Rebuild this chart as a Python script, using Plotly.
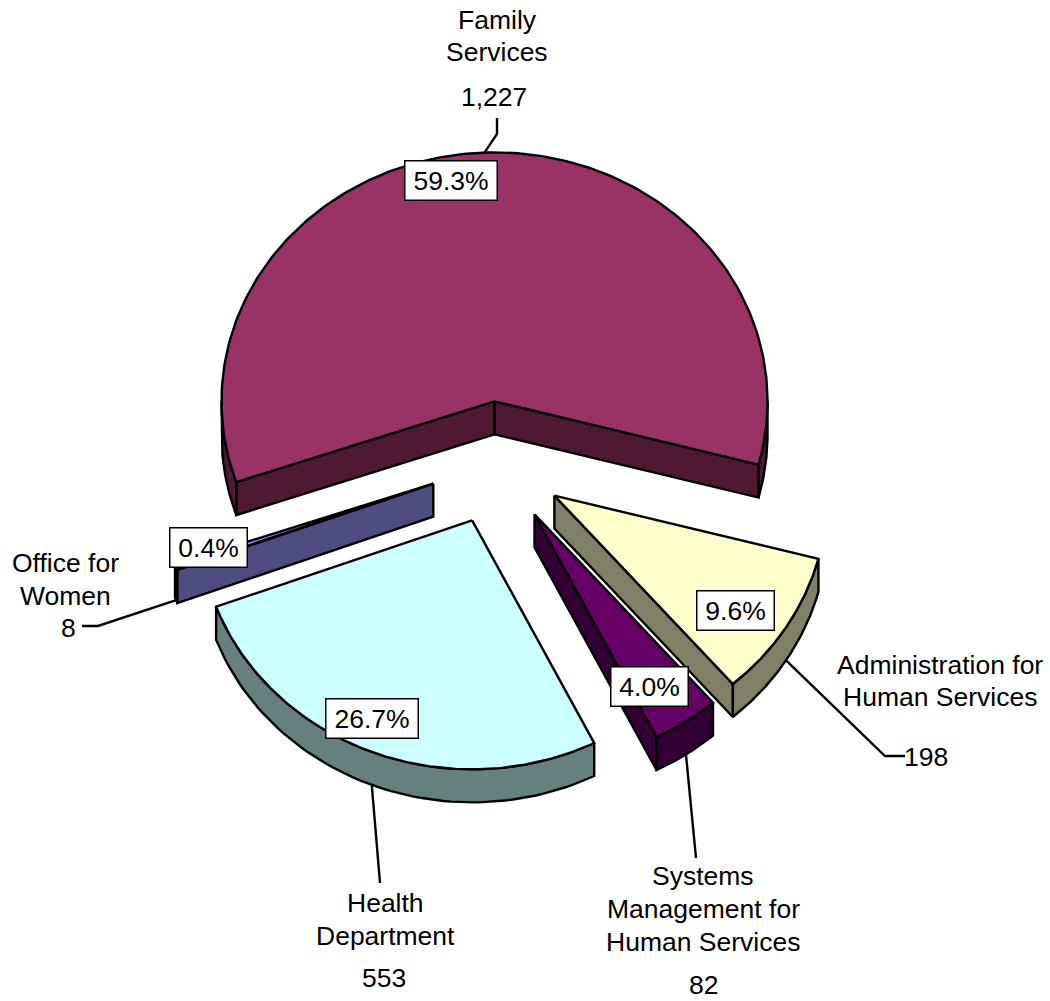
import numpy as np
import plotly.graph_objects as go

# Data, clockwise from Family Services
names = ["Family<br>Services", "Administration for<br>Human Services",
         "Systems<br>Management for<br>Human Services", "Health<br>Department",
         "Office for<br>Women"]
values = [1227, 198, 82, 553, 8]
value_labels = ["1,227", "198", "82", "553", "8"]
pct_labels = ["59.3%", "9.6%", "4.0%", "26.7%", "0.4%"]

top_colors = ["#993366", "#FFFFCC", "#660066", "#CCFFFF", "#9999FF"]
wall_colors = ["#4D1933", "#808066", "#330033", "#668080", "#4D4D80"]

# Pie geometry in page pixels
CX, CY = 497.0, 463.0
RX, RY = 273, 249
TILT = RY / RX
EXPLODE = 67.6
DEPTH = 33
START = 251.1
LW = 2.4

# Label placement: (x, y of each name line), (x, y of value), box centre, box size
name_pos = [(497, [20, 52]), (940, [665, 697]), (703, [876, 909, 942]),
            (385, [903, 936]), (65, [563, 596])]
value_pos = [(494, 97), (926, 757), (703, 985), (384, 978), (68, 628)]
box_pos = [(451, 180), (735, 610), (649, 686), (372, 718), (208, 547)]
box_w = [91, 76, 76, 91, 76]
elbows = [[(497, 134), (497, 118)], [(885, 756), (905, 756)], [(696, 858)],
          [(380, 883)], [(98, 626), (82, 626)]]

total = sum(values)
sweeps = [v / total * 360 for v in values]
starts = [START + sum(sweeps[:i]) for i in range(len(values))]


def rim(cx, cy, deg):
    a = np.radians(deg)
    return cx + RX * np.sin(a), cy - RY * np.cos(a)


def poly(xs, ys, color):
    # one closed filled outline
    return go.Scatter(x=list(xs), y=list(ys), mode="lines", fill="toself", fillcolor=color,
                      line=dict(color="black", width=LW), hoverinfo="skip", showlegend=False)


def bottom_spans(a0, a1):
    # parts of the arc on the near side of the pie (90..270 deg clockwise from top)
    spans = []
    for shift in (0, 360):
        lo, hi = max(a0, 90 + shift), min(a1, 270 + shift)
        if hi > lo:
            spans.append((lo, hi))
    return spans


fig = go.Figure()
leaders = []
order = [0, 4, 1, 2, 3]
for i in order:
    a0, a1 = starts[i], starts[i] + sweeps[i]
    mid = np.radians((a0 + a1) / 2)
    cx = CX + EXPLODE * np.sin(mid)
    cy = CY - EXPLODE * TILT * np.cos(mid)

    # leader line starts on the outer edge of the slice
    lx, ly = rim(cx, cy, (a0 + a1) / 2)
    if np.cos(mid) < 0:
        ly += DEPTH
    leaders.append(([lx] + [p[0] for p in elbows[i]], [ly] + [p[1] for p in elbows[i]]))

    # radial walls that face the viewer
    for edge, sign in ((a0, -1), (a1, 1)):
        if sign * np.sin(np.radians(edge)) > 0:
            ex, ey = rim(cx, cy, edge)
            fig.add_trace(poly([cx, ex, ex, cx, cx], [cy, ey, ey + DEPTH, cy + DEPTH, cy], wall_colors[i]))

    # outer wall
    for lo, hi in bottom_spans(a0, a1):
        t = np.linspace(lo, hi, 60)
        ax, ay = rim(cx, cy, t)
        fig.add_trace(poly(np.r_[ax, ax[::-1], ax[0]], np.r_[ay, ay[::-1] + DEPTH, ay[0]], wall_colors[i]))

    # top face
    t = np.linspace(a0, a1, 200)
    ax, ay = rim(cx, cy, t)
    fig.add_trace(poly(np.r_[cx, ax, cx], np.r_[cy, ay, cy], top_colors[i]))

for xs, ys in leaders:
    fig.add_trace(go.Scatter(x=xs, y=ys, mode="lines", line=dict(color="black", width=LW),
                             hoverinfo="skip", showlegend=False))

text_font = dict(family="Liberation Sans, Arial, sans-serif", size=26.5, color="black")
for i in range(len(values)):
    x, line_ys = name_pos[i]
    for line, y in zip(names[i].split("<br>"), line_ys):
        fig.add_annotation(x=x, y=y, text=line, showarrow=False, font=text_font)
    fig.add_annotation(x=value_pos[i][0], y=value_pos[i][1], text=value_labels[i],
                       showarrow=False, font=text_font)
    fig.add_annotation(x=box_pos[i][0], y=box_pos[i][1], text=pct_labels[i], showarrow=False,
                       font=text_font, bgcolor="white", bordercolor="black", borderwidth=1.5,
                       width=box_w[i], height=38, borderpad=0)

fig.update_layout(
    width=1050, height=1001,
    margin=dict(l=0, r=0, t=0, b=0),
    paper_bgcolor="white", plot_bgcolor="white",
    showlegend=False,
    xaxis=dict(range=[0, 1050], visible=False, fixedrange=True),
    yaxis=dict(range=[1001, 0], visible=False, fixedrange=True),
)

fig.write_html("out.html", config=dict(displayModeBar=False),
               post_script="document.body.style.margin='0';")
